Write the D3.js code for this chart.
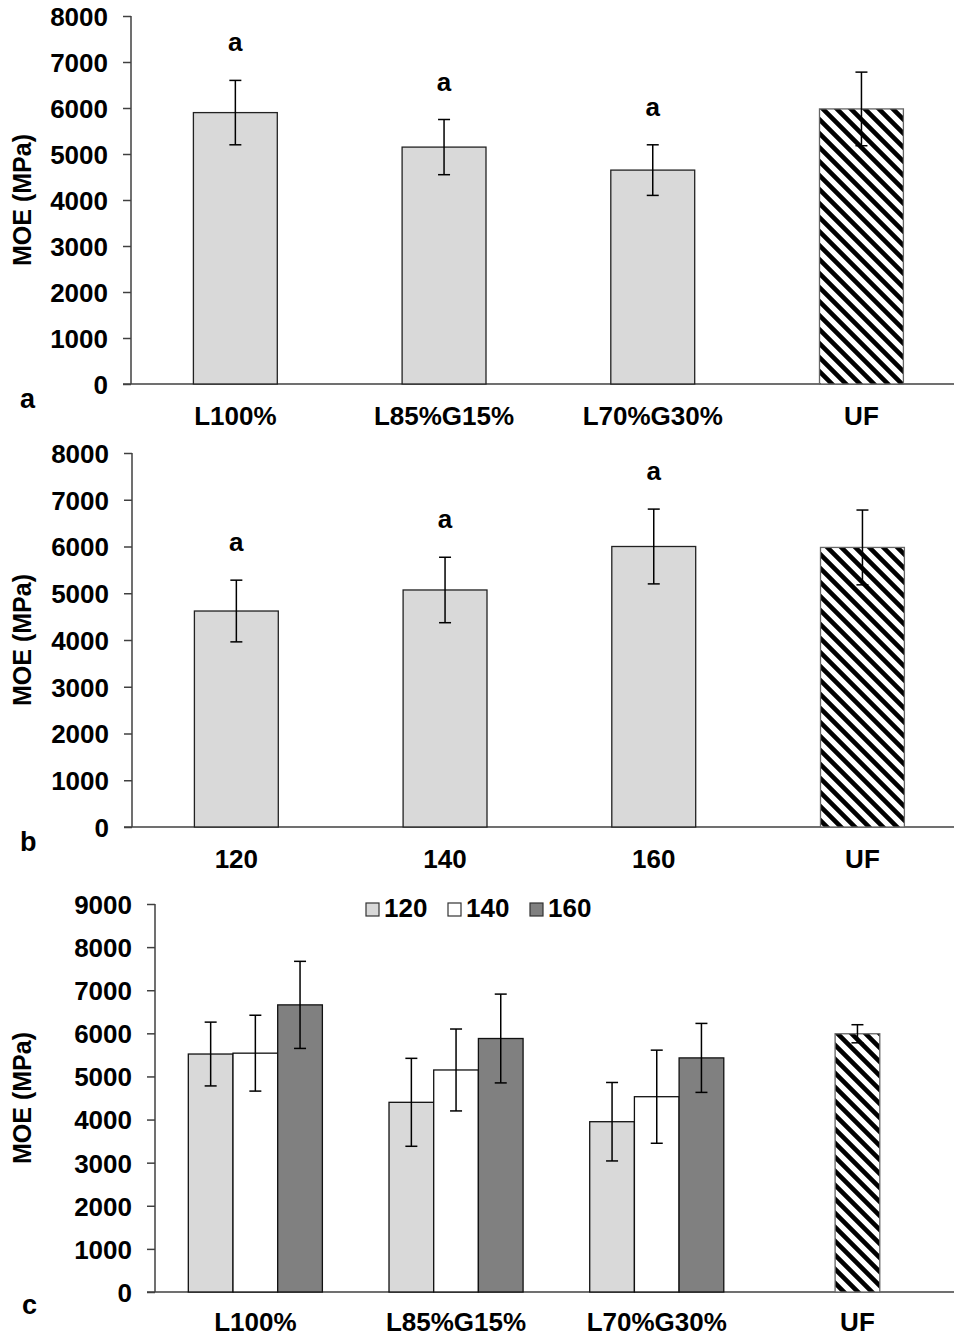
<!DOCTYPE html>
<html>
<head>
<meta charset="utf-8">
<script src="https://cdn.jsdelivr.net/npm/d3@7"></script>
<style>
  body { margin: 0; background: #fff; }
  text { font-family: "Liberation Sans", Arial, sans-serif; font-weight: bold; fill: #000; }
</style>
</head>
<body>
<script>
// panel a : adhesive formulation
var catsA = ["L100%", "L85%G15%", "L70%G30%", "UF"];
var meanA = [5900, 5150, 4650, 5980];
var errA = [700, 600, 550, 800];
var letA = ["a", "a", "a", ""];

// panel b : press temperature
var catsB = ["120", "140", "160", "UF"];
var meanB = [4620, 5070, 6000, 5980];
var errB = [660, 700, 800, 800];
var letB = ["a", "a", "a", ""];

// panel c : formulation x temperature
var groupsC = ["L100%", "L85%G15%", "L70%G30%", "UF"];
var tempsC = ["120", "140", "160"];
var mean120 = [5520, 4400, 3950];
var err120 = [740, 1020, 910];
var mean140 = [5540, 5150, 4530];
var err140 = [880, 950, 1080];
var mean160 = [6660, 5880, 5430];
var err160 = [1010, 1030, 800];
var meanUFc = 5990;
var errUFc = 210;

var ticksAB = [0, 1000, 2000, 3000, 4000, 5000, 6000, 7000, 8000];
var ticksC = [0, 1000, 2000, 3000, 4000, 5000, 6000, 7000, 8000, 9000];

var W = 954, H = 1336;
var light = "#d9d9d9", dark = "#808080", axisCol = "#404040";
var fs = "26px";

var svg = d3.select("body").append("svg")
  .attr("width", W)
  .attr("height", H);

// hatch used for the UF reference bar
var defs = svg.append("defs");
var P = 14;
var pat = defs.append("pattern")
  .attr("id", "hatch")
  .attr("patternUnits", "userSpaceOnUse")
  .attr("width", P).attr("height", P);
pat.append("rect").attr("width", P).attr("height", P).attr("fill", "#fff");
pat.append("path")
  .attr("d", "M0,0L" + P + "," + P + "M" + (-P / 2) + "," + (P / 2) + "L" + (P / 2) + "," + (P * 1.5) +
    "M" + (P / 2) + "," + (-P / 2) + "L" + (P * 1.5) + "," + (P / 2))
  .attr("stroke", "#000")
  .attr("stroke-width", 4.6);

function yAxis(g, y, x0, ticks) {
  var ax = g.append("g")
    .attr("transform", "translate(" + x0 + ",0)")
    .call(d3.axisLeft(y).tickValues(ticks).tickSize(8).tickPadding(15).tickFormat(d3.format("d")));
  ax.select(".domain").attr("stroke", axisCol).attr("stroke-width", 1.5).attr("d",
    "M0," + y(ticks[ticks.length - 1]) + "V" + y(0));
  ax.selectAll(".tick line").attr("stroke", axisCol).attr("stroke-width", 1.5);
  ax.selectAll(".tick text").style("font-size", fs).attr("dy", "0.36em");
}

function xLine(g, y, x0) {
  g.append("line")
    .attr("x1", x0 - 8).attr("x2", W)
    .attr("y1", y(0)).attr("y2", y(0))
    .attr("stroke", axisCol).attr("stroke-width", 1.5);
}

function errBar(g, cx, y, m, e) {
  g.append("line").attr("x1", cx).attr("x2", cx)
    .attr("y1", y(m + e)).attr("y2", y(m - e))
    .attr("stroke", "#000").attr("stroke-width", 1.5);
  [m + e, m - e].forEach(function (v) {
    g.append("line").attr("x1", cx - 6).attr("x2", cx + 6)
      .attr("y1", y(v)).attr("y2", y(v))
      .attr("stroke", "#000").attr("stroke-width", 1.5);
  });
}

function yTitle(g, cy) {
  g.append("text")
    .attr("transform", "translate(31," + cy + ") rotate(-90)")
    .attr("text-anchor", "middle")
    .style("font-size", "25px")
    .text("MOE (MPa)");
}

// simple panels a and b
function simplePanel(cats, means, errs, lets, x0, yTop, yZero, tag, tagY) {
  var g = svg.append("g");
  var y = d3.scaleLinear().domain([0, 8000]).range([yZero, yTop]);
  var x = d3.scaleBand().domain(cats).range([x0, x0 + 4 * 208.7]).paddingInner(0.598).paddingOuter(0.299);

  xLine(g, y, x0);

  g.selectAll("rect.bar").data(cats).enter().append("rect")
    .attr("x", function (d) { return x(d); })
    .attr("width", x.bandwidth())
    .attr("y", function (d, i) { return y(means[i]); })
    .attr("height", function (d, i) { return y(0) - y(means[i]); })
    .attr("fill", function (d) { return d === "UF" ? "url(#hatch)" : light; })
    .attr("stroke", function (d) { return d === "UF" ? "#666" : "#222"; })
    .attr("stroke-width", 1.3);

  cats.forEach(function (d, i) {
    var cx = x(d) + x.bandwidth() / 2;
    errBar(g, cx, y, means[i], errs[i]);
    if (lets[i]) {
      g.append("text").attr("x", cx).attr("y", y(means[i] + errs[i]) - 29)
        .attr("text-anchor", "middle").style("font-size", fs).text(lets[i]);
    }
    g.append("text").attr("x", cx).attr("y", yZero + 41)
      .attr("text-anchor", "middle").style("font-size", fs).text(d);
  });

  yAxis(g, y, x0, ticksAB);
  yTitle(g, (yTop + yZero) / 2);
  g.append("text").attr("x", 20).attr("y", tagY).style("font-size", "27px").text(tag);
}

simplePanel(catsA, meanA, errA, letA, 131, 16, 384, "a", 408);
simplePanel(catsB, meanB, errB, letB, 132, 453, 827, "b", 851);

// grouped panel c
(function () {
  var g = svg.append("g");
  var x0 = 155, yTop = 904, yZero = 1292;
  var y = d3.scaleLinear().domain([0, 9000]).range([yZero, yTop]);
  var xg = d3.scaleBand().domain(groupsC).range([x0, x0 + 4 * 200.7]).paddingInner(0.332).paddingOuter(0.166);
  var xs = d3.scaleBand().domain(tempsC).range([0, xg.bandwidth()]);
  var fills = { "120": light, "140": "#fff", "160": dark };
  var series = { "120": [mean120, err120], "140": [mean140, err140], "160": [mean160, err160] };

  xLine(g, y, x0);

  tempsC.forEach(function (t) {
    var m = series[t][0], e = series[t][1];
    g.selectAll("rect.s" + t).data(groupsC.slice(0, 3)).enter().append("rect")
      .attr("x", function (d) { return xg(d) + xs(t); })
      .attr("width", xs.bandwidth())
      .attr("y", function (d, i) { return y(m[i]); })
      .attr("height", function (d, i) { return y(0) - y(m[i]); })
      .attr("fill", fills[t])
      .attr("stroke", "#111")
      .attr("stroke-width", 1.3);
    groupsC.slice(0, 3).forEach(function (d, i) {
      errBar(g, xg(d) + xs(t) + xs.bandwidth() / 2, y, m[i], e[i]);
    });
  });

  var ufx = xg("UF") + xg.bandwidth() / 2;
  g.append("rect")
    .attr("x", ufx - xs.bandwidth() / 2).attr("width", xs.bandwidth())
    .attr("y", y(meanUFc)).attr("height", y(0) - y(meanUFc))
    .attr("fill", "url(#hatch)").attr("stroke", "#666").attr("stroke-width", 1.3);
  errBar(g, ufx, y, meanUFc, errUFc);

  groupsC.forEach(function (d) {
    g.append("text").attr("x", xg(d) + xg.bandwidth() / 2).attr("y", yZero + 39)
      .attr("text-anchor", "middle").style("font-size", fs).text(d);
  });

  yAxis(g, y, x0, ticksC);
  yTitle(g, (yTop + yZero) / 2);
  g.append("text").attr("x", 22).attr("y", 1314).style("font-size", "27px").text("c");

  // legend
  var lg = g.append("g").attr("transform", "translate(366,903)");
  tempsC.forEach(function (t, i) {
    var it = lg.append("g").attr("transform", "translate(" + (i * 82) + ",0)");
    it.append("rect").attr("width", 13).attr("height", 13)
      .attr("fill", fills[t]).attr("stroke", "#333").attr("stroke-width", 1.2);
    it.append("text").attr("x", 18).attr("y", 14).style("font-size", fs).text(t);
  });
})();
</script>
</body>
</html>
